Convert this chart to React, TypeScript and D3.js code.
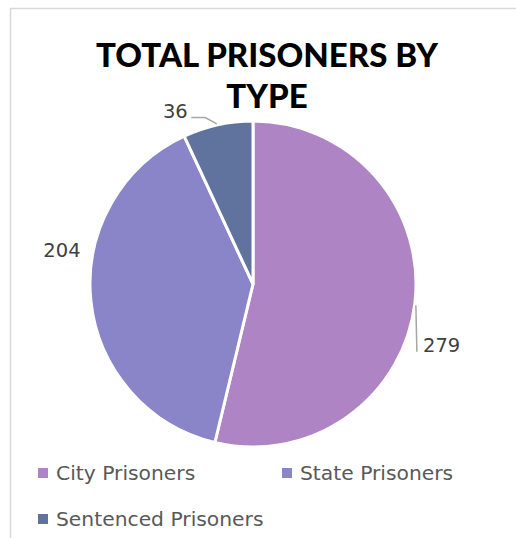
import { useEffect, useRef } from "react";
import * as d3 from "d3";

const categories = ["City Prisoners", "State Prisoners", "Sentenced Prisoners"];
const values = [279, 204, 36];
const colors = ["#AE84C5", "#8A85C8", "#60739E"];
// nudges for Excel-style label placement
const labelNudge: [number, number][] = [
  [-3, 38],
  [1, -53],
  [-36, 16],
];

export default function App() {
  const svgRef = useRef<SVGSVGElement>(null);

  useEffect(() => {
    if (!svgRef.current) return;
    const svg = d3.select(svgRef.current);
    const width = 516;
    const height = 538;
    svg.selectAll("*").remove();
    svg.attr("width", width).attr("height", height);

    // chart frame
    svg
      .append("rect")
      .attr("x", 10.5)
      .attr("y", 8.5)
      .attr("width", 520)
      .attr("height", 540)
      .attr("fill", "white")
      .attr("stroke", "#d9d9d9")
      .attr("stroke-width", 1.5);

    // Title
    const title = svg
      .append("text")
      .attr("text-anchor", "middle")
      .attr("font-family", "Lato, sans-serif")
      .attr("font-weight", 900)
      .attr("font-size", "33px")
      .attr("fill", "#000");
    title.append("tspan").attr("x", 267).attr("y", 67).text("TOTAL PRISONERS BY");
    title.append("tspan").attr("x", 267).attr("y", 108).text("TYPE");

    const cx = 253;
    const cy = 284;
    const r = 163;

    const pie = d3
      .pie<number>()
      .sort(null)
      .value((d) => d);
    const arcs = pie(values);
    const arc = d3.arc<d3.PieArcDatum<number>>().innerRadius(0).outerRadius(r);

    const g = svg.append("g").attr("transform", `translate(${cx},${cy})`);
    g.selectAll("path")
      .data(arcs)
      .enter()
      .append("path")
      .attr("d", arc)
      .attr("fill", (_, i) => colors[i])
      .attr("stroke", "white")
      .attr("stroke-width", 3)
      .attr("stroke-linejoin", "round");

    // labels
    arcs.forEach((a, i) => {
      const mid = (a.startAngle + a.endAngle) / 2;
      const lx = Math.sin(mid) * (r + 30) + labelNudge[i][0];
      const ly = -Math.cos(mid) * (r + 30) + labelNudge[i][1];
      const ex = Math.sin(mid) * r;
      const ey = -Math.cos(mid) * r;
      if (i === 0) {
        g.append("polyline")
          .attr("points", `${ex + 1},${ey + 2} ${ex + 2},${ly + 7}`)
          .attr("fill", "none")
          .attr("stroke", "#a6a6a6")
          .attr("stroke-width", 1.5);
      }
      if (i === 2) {
        g.append("polyline")
          .attr("points", `${ex - 1},${ey - 1} ${lx + 30},${ly + 6} ${lx + 16},${ly + 6}`)
          .attr("fill", "none")
          .attr("stroke", "#a6a6a6")
          .attr("stroke-width", 1.5);
      }
      g.append("text")
        .attr("x", lx)
        .attr("y", ly)
        .attr("dy", "0.35em")
        .attr("text-anchor", "middle")
        .attr("font-family", "'DejaVu Sans', sans-serif")
        .attr("font-size", "19.5px")
        .attr("fill", "#404040")
        .text(String(values[i]));
    });

    // legend
    const legendPos: [number, number][] = [
      [38, 473],
      [282, 473],
      [38, 519],
    ];
    categories.forEach((c, i) => {
      const [x, y] = legendPos[i];
      svg
        .append("rect")
        .attr("x", x)
        .attr("y", y - 5)
        .attr("width", 10)
        .attr("height", 10)
        .attr("fill", colors[i]);
      svg
        .append("text")
        .attr("x", x + 18)
        .attr("y", y)
        .attr("dy", "0.35em")
        .attr("font-family", "'DejaVu Sans', sans-serif")
        .attr("font-size", "20.3px")
        .attr("fill", "#595959")
        .text(c);
    });
  }, []);

  return (
    <div style={{ position: "fixed", left: 0, top: 0, width: 516, height: 538, background: "white" }}>
      <svg ref={svgRef} style={{ display: "block" }}></svg>
    </div>
  );
}
